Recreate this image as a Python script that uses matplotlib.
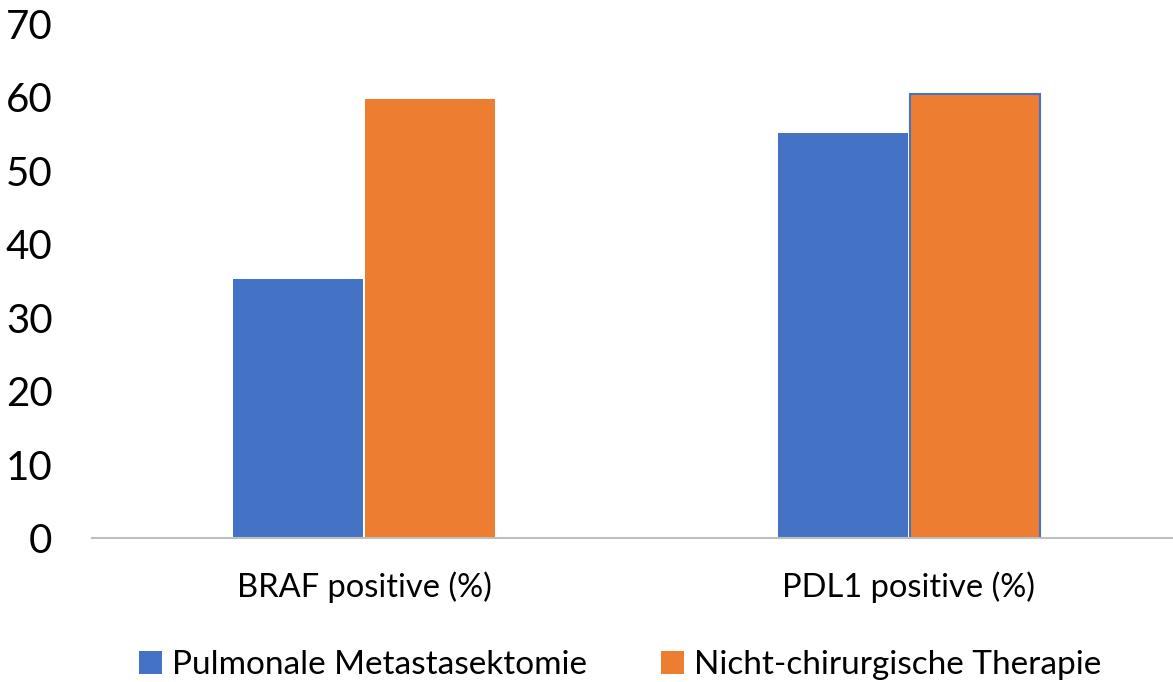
import matplotlib
matplotlib.use("Agg")
import matplotlib.pyplot as plt
import numpy as np

plt.rcParams['font.family'] = ['Lato', 'DejaVu Sans']

# data
categories = ['BRAF positive (%)', 'PDL1 positive (%)']
series_names = ['Pulmonale Metastasektomie', 'Nicht-chirurgische Therapie']
pulmonale = [35.3, 55.2]
nicht_chir = [59.8, 60.4]
yticks = [0, 10, 20, 30, 40, 50, 60, 70]

blue = '#4472C4'
orange = '#ED7D31'

fig = plt.figure(figsize=(11.73, 6.82), dpi=100)
ax = fig.add_axes([91.5 / 1173, 1 - 538 / 682, (1173 - 91.5) / 1173, (538 - 24) / 682])

x = np.arange(len(categories))
w = 0.239
gap = 0.002
b1 = ax.bar(x - w / 2 - gap, pulmonale, w, color=blue, label=series_names[0])
b2 = ax.bar(x + w / 2 + gap, nicht_chir, w, color=orange, label=series_names[1])
# second orange bar is shown selected (blue outline) in the original
b2[1].set_edgecolor(blue)
b2[1].set_linewidth(1.5)

ax.set_ylim(0, 70)
ax.set_xlim(-0.5, (1173 - 364) / 545)
ax.set_yticks(yticks)
ax.set_yticklabels([str(t) for t in yticks], fontsize=29)
ax.set_xticks(x)
ax.set_xticklabels(categories, fontsize=23.5)
ax.tick_params(axis='y', length=0, pad=28)
ax.tick_params(axis='x', length=0, pad=24)
for lbl in ax.get_yticklabels():
    lbl.set_horizontalalignment('right')

for s in ['top', 'right', 'left']:
    ax.spines[s].set_visible(False)
ax.spines['bottom'].set_color('#BFBFBF')
ax.spines['bottom'].set_linewidth(1.5)

fig.legend(handles=[b1, b2], labels=series_names, loc='center',
           bbox_to_anchor=(620 / 1173, 1 - 665 / 682), ncol=2, frameon=False,
           fontsize=24, handlelength=0.7, handleheight=0.7, handletextpad=0.3,
           columnspacing=2.2)

fig.savefig('out.png', dpi=100)
